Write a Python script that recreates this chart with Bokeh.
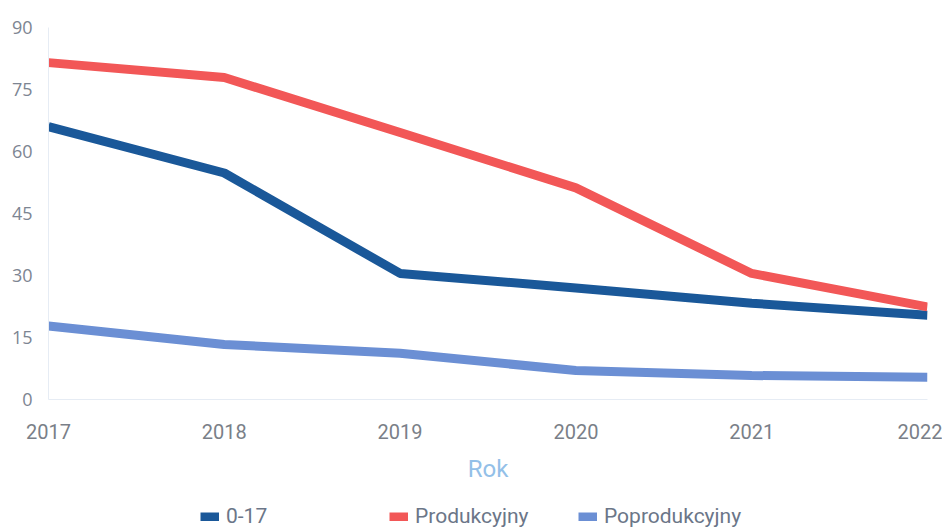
from bokeh.plotting import figure
from bokeh.models import Legend, LegendItem, Range1d, FixedTicker
from bokeh.layouts import column
from bokeh.embed import file_html
from bokeh.resources import INLINE

years = [2017, 2018, 2019, 2020, 2021, 2022]
s_0_17 = [66.0, 54.8, 30.5, 27.0, 23.3, 20.4]
s_prod = [81.5, 77.9, 64.6, 51.2, 30.5, 22.4]
s_poprod = [17.8, 13.3, 11.2, 7.0, 5.8, 5.4]
y_ticks = [0, 15, 30, 45, 60, 75, 90]
names = ["0-17", "Produkcyjny", "Poprodukcyjny"]
colors = ["#1a5899", "#f25757", "#6b8fd4"]
series = [s_0_17, s_prod, s_poprod]

p = figure(width=942, height=490, output_backend="svg", toolbar_location=None,
           x_range=Range1d(2017, 2022), y_range=Range1d(0, 90),
           min_border_left=48, min_border_right=15, min_border_top=27, min_border_bottom=91)
p.outline_line_color = None
p.xgrid.grid_line_color = None
p.ygrid.grid_line_color = None

for ys, c in zip(series, colors):
    p.line(years, ys, line_color=c, line_width=9)

p.yaxis.ticker = FixedTicker(ticks=y_ticks)
p.xaxis.ticker = FixedTicker(ticks=years)
for ax in (p.xaxis[0], p.yaxis[0]):
    ax.major_tick_line_color = None
    ax.minor_tick_line_color = None
    ax.axis_line_color = "#e6ecf4"
    ax.axis_line_width = 1

p.yaxis.major_label_text_font = "Open Sans"
p.yaxis.major_label_text_font_size = "18px"
p.yaxis.major_label_text_color = "#7d8592"
p.yaxis.major_label_standoff = 10

p.xaxis.major_label_text_font = "Roboto"
p.xaxis.major_label_text_font_size = "20px"
p.xaxis.major_label_text_color = "#7a7f88"
p.xaxis.major_label_standoff = 18
p.xaxis.axis_label = "Rok"
p.xaxis.axis_label_text_font = "Roboto"
p.xaxis.axis_label_text_font_style = "normal"
p.xaxis.axis_label_text_font_size = "24px"
p.xaxis.axis_label_text_color = "#93c0e8"
p.xaxis.axis_label_standoff = 13

# legend in its own strip below the chart
lg = figure(width=942, height=39, output_backend="svg", toolbar_location=None,
            x_axis_type=None, y_axis_type=None,
            min_border_left=0, min_border_right=0, min_border_top=0, min_border_bottom=0,
            x_range=Range1d(0, 1), y_range=Range1d(0, 1))
lg.outline_line_color = None
lg.xgrid.grid_line_color = None
lg.ygrid.grid_line_color = None
dummies = [lg.line(years, ys, line_color=c, line_width=9) for ys, c in zip(series, colors)]
items = [LegendItem(label=n, renderers=[r]) for n, r in zip(names, dummies)]
legend = Legend(items=items, orientation="horizontal", location=(152, 1),
                glyph_width=19, glyph_height=9, label_standoff=7, label_width=155,
                spacing=8, padding=0, margin=0, border_line_color=None,
                background_fill_alpha=0,
                label_text_font="Roboto", label_text_font_size="21px",
                label_text_color="#6b7688")
lg.add_layout(legend, "center")

open("out.html", "w").write(file_html(column(p, lg), INLINE))
